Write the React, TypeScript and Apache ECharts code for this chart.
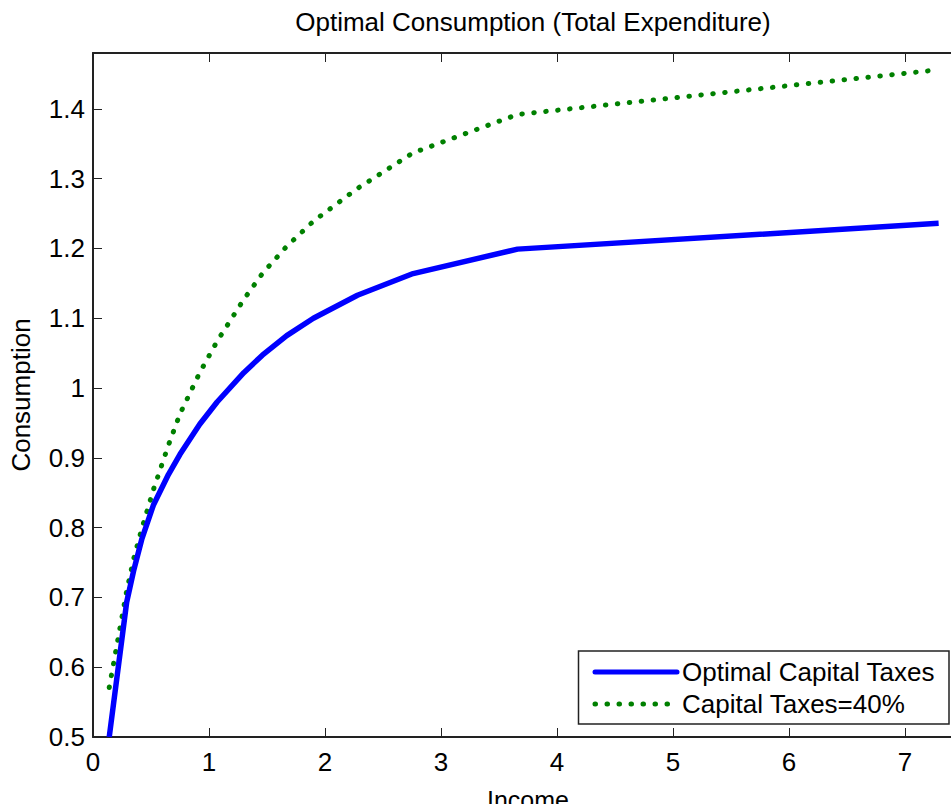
import React, { useEffect, useRef } from "react";
import * as echarts from "echarts";

const income = [0.14, 0.29, 0.35, 0.42, 0.52, 0.65, 0.75, 0.92, 1.07, 1.3, 1.46, 1.67, 1.9, 2.28, 2.76, 3.66, 7.29];
const optimalTaxes = [0.5, 0.693, 0.738, 0.783, 0.832, 0.876, 0.905, 0.948, 0.98, 1.022, 1.047, 1.075, 1.1, 1.133, 1.164, 1.199, 1.236];
const taxes40 = [0.571, 0.709, 0.755, 0.798, 0.854, 0.918, 0.963, 1.022, 1.067, 1.127, 1.164, 1.203, 1.239, 1.286, 1.337, 1.392, 1.456];
const seriesNames = ["Optimal Capital Taxes", "Capital Taxes=40%"];
const titleText = "Optimal Consumption (Total Expenditure)";
const xName = "Income";
const yName = "Consumption";

const FONT = "'Liberation Sans', Arial, Helvetica, sans-serif";
const FS = 26;
const AX = "#222";

export default function App() {
  const ref = useRef<HTMLDivElement>(null);
  useEffect(() => {
    if (!ref.current) return;
    const chart = echarts.init(ref.current, undefined, { renderer: "svg" });
    const pairs = (ys: number[]) => income.map((x, i) => [x, ys[i]]);
    chart.setOption({
      animation: false,
      backgroundColor: "#fff",
      textStyle: { fontFamily: FONT, color: "#000" },
      title: {
        text: titleText,
        left: 528,
        textAlign: "center",
        top: 4,
        textStyle: { fontFamily: FONT, fontSize: FS, fontWeight: "normal", color: "#000" },
      },
      grid: { left: 93, right: 2, top: 53, bottom: 67, outerBoundsMode: "none", containLabel: false },
      legend: {
        orient: "vertical",
        right: 16,
        bottom: 80,
        padding: [8, 9, 7, 14],
        itemGap: 6,
        itemWidth: 82,
        itemHeight: 26,
        backgroundColor: "#fff",
        borderColor: AX,
        borderWidth: 1.5,
        borderRadius: 0,
        itemStyle: { opacity: 0 },
        lineStyle: { width: 5, cap: "round" },
        textStyle: { fontFamily: FONT, fontSize: FS, color: "#000", width: 258, lineHeight: 26 },
        data: seriesNames,
      },
      xAxis: [
        {
          type: "value",
          min: 0,
          max: 7.5,
          interval: 1,
          name: xName,
          nameLocation: "middle",
          nameGap: 50,
          nameMoveOverlap: false,
          nameTextStyle: { fontFamily: FONT, fontSize: 25, color: "#000", lineHeight: 25 },
          axisLine: { show: true, onZero: false, lineStyle: { color: AX, width: 2 } },
          axisTick: { show: true, inside: true, length: 9, lineStyle: { color: AX, width: 1 } },
          axisLabel: { fontFamily: FONT, fontSize: FS, color: "#000", margin: 12, showMaxLabel: false },
          splitLine: { show: false },
        },
        {
          type: "value",
          position: "top",
          min: 0,
          max: 7.5,
          interval: 1,
          axisLine: { show: true, onZero: false, lineStyle: { color: AX, width: 2 } },
          axisTick: { show: true, inside: true, length: 9, lineStyle: { color: AX, width: 1 } },
          axisLabel: { show: false },
          splitLine: { show: false },
        },
      ],
      yAxis: [
        {
          type: "value",
          min: 0.5,
          max: 1.48,
          interval: 0.1,
          name: yName,
          nameLocation: "middle",
          nameGap: 59,
          nameTextStyle: { fontFamily: FONT, fontSize: FS, color: "#000" },
          axisLine: { show: true, onZero: false, lineStyle: { color: AX, width: 2 } },
          axisTick: { show: true, inside: true, length: 9, lineStyle: { color: AX, width: 1 } },
          axisLabel: { fontFamily: FONT, fontSize: FS, color: "#000", margin: 8, showMaxLabel: false },
          splitLine: { show: false },
        },
      ],
      series: [
        {
          name: seriesNames[0],
          type: "line",
          data: pairs(optimalTaxes),
          symbol: "none",
          color: "#0000ff",
          lineStyle: { color: "#0000ff", width: 5.5 },
          z: 3,
        },
        {
          name: seriesNames[1],
          type: "line",
          data: pairs(taxes40),
          symbol: "none",
          color: "#008000",
          lineStyle: { color: "#008000", width: 5, type: [0.5, 11.5], cap: "round" },
          z: 2,
        },
      ],
    });
    return () => chart.dispose();
  }, []);
  return (
    <div style={{ position: "fixed", left: 0, top: 0, width: 951, height: 804, overflow: "hidden", background: "#fff" }}>
      <div ref={ref} style={{ width: 965, height: 804 }} />
    </div>
  );
}
